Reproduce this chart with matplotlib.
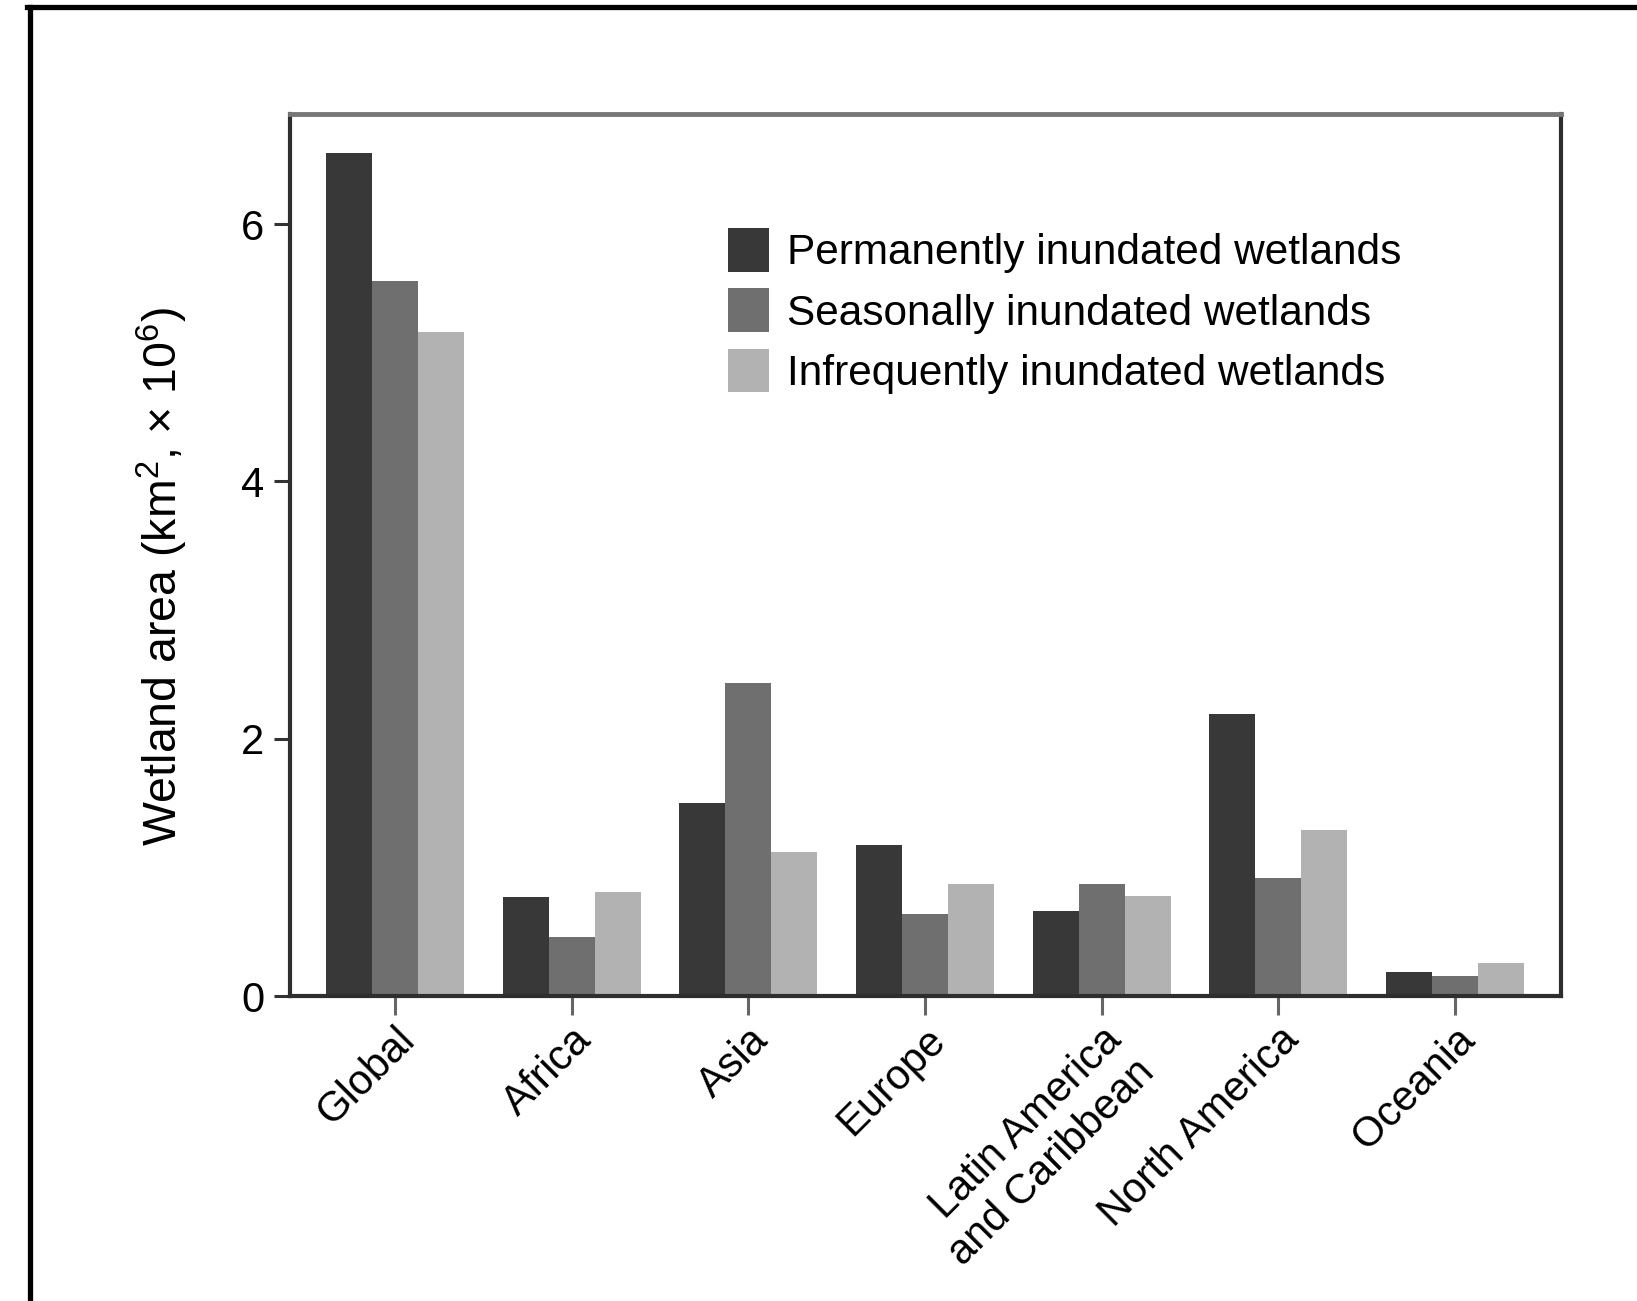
import matplotlib
matplotlib.use('Agg')
import matplotlib.pyplot as plt
from matplotlib.lines import Line2D
import numpy as np

plt.rcParams['font.family'] = ['Liberation Sans', 'DejaVu Sans']
plt.rcParams['mathtext.fontset'] = 'custom'
plt.rcParams['mathtext.rm'] = 'Liberation Sans'
plt.rcParams['mathtext.it'] = 'Liberation Sans:italic'

# Wetland area by region (km^2, x 10^6)
regions = ['Global', 'Africa', 'Asia', 'Europe', 'Latin America\nand Caribbean',
           'North America', 'Oceania']
permanent = [6.55, 0.77, 1.50, 1.17, 0.66, 2.19, 0.19]
seasonal = [5.56, 0.46, 2.43, 0.64, 0.87, 0.92, 0.155]
infrequent = [5.16, 0.81, 1.12, 0.87, 0.78, 1.29, 0.26]

series_names = ['Permanently inundated wetlands',
                'Seasonally inundated wetlands',
                'Infrequently inundated wetlands']
colors = ['#383838', '#6f6f6f', '#b2b2b2']

W, H = 1637, 1301
fig = plt.figure(figsize=(W / 100, H / 100), dpi=100)
ax = fig.add_axes([290 / W, 305 / H, 1271 / W, 882 / H])

x = np.arange(len(regions))
width = 0.26
for i, (vals, name, c) in enumerate(zip([permanent, seasonal, infrequent],
                                        series_names, colors)):
    ax.bar(x + (i - 1) * width, vals, width, color=c, label=name, linewidth=0)

ax.set_xlim(-0.594, 6.6)
ax.set_ylim(0, 6.855)
ax.set_yticks([0, 2, 4, 6])
ax.set_xticks(x)
ax.set_xticklabels(regions, rotation=45, ha='right', va='top',
                   rotation_mode='anchor', fontsize=30)
ax.tick_params(axis='y', labelsize=30, length=11.5, width=2.2,
               color='#333333', pad=7)
ax.tick_params(axis='x', length=14, width=2.2, color='#666666', pad=3)

for side in ['left', 'right', 'bottom']:
    ax.spines[side].set_linewidth(3)
    ax.spines[side].set_color('#2e2e2e')
ax.spines['top'].set_linewidth(3.5)
ax.spines['top'].set_color('#777777')

ax.set_ylabel(r'Wetland area (km$^{2}$, $\times$ 10$^{6}$)', fontsize=33.5)
ax.yaxis.set_label_coords(-0.0787, 0.475)

ax.legend(loc='center left', bbox_to_anchor=(728 / W, 1 - 311 / H),
          bbox_transform=fig.transFigure, frameon=False, fontsize=30.5,
          handlelength=0.97, handleheight=1.2, handletextpad=0.42,
          labelspacing=0.36, borderpad=0, borderaxespad=0)

# outer frame lines along top and left
fig.add_artist(Line2D([29.5 / W, 29.5 / W], [-0.01, 1 - 6.5 / H],
                      transform=fig.transFigure, color='black', lw=3.8))
fig.add_artist(Line2D([27 / W, 1.01], [1 - 6.5 / H, 1 - 6.5 / H],
                      transform=fig.transFigure, color='black', lw=3.8))

fig.savefig('out.png', dpi=100)
